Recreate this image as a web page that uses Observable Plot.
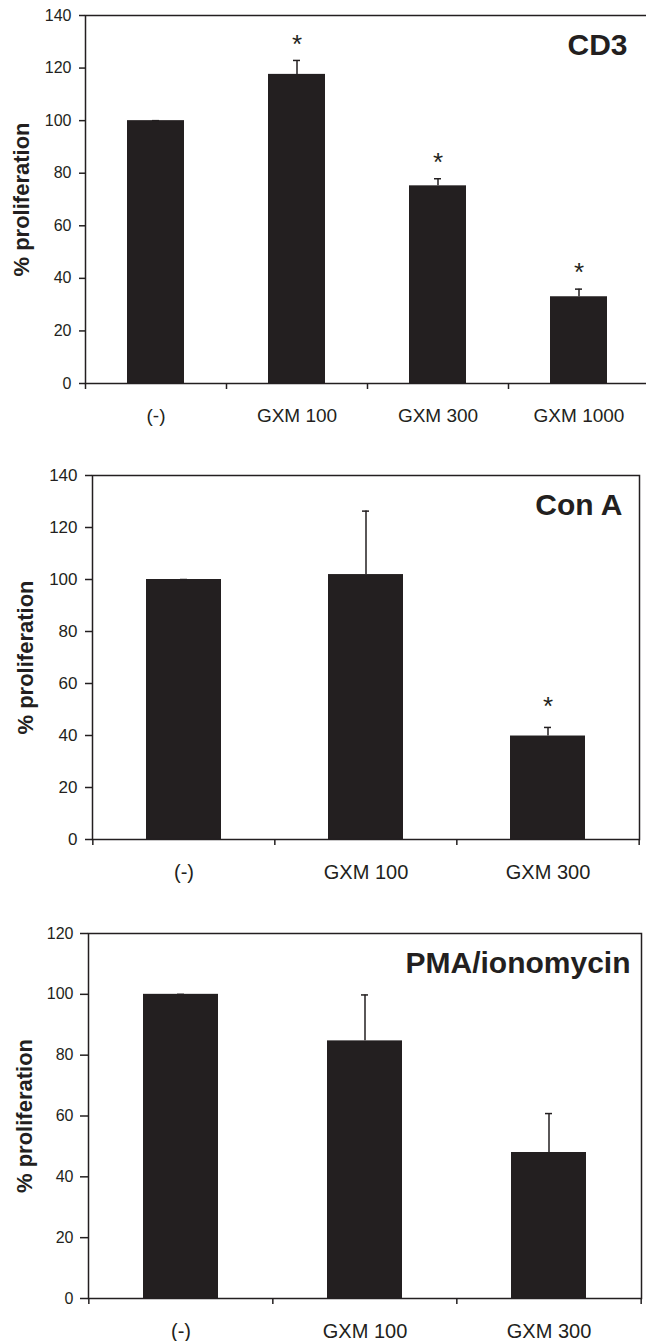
<!DOCTYPE html>
<html>
<head>
<meta charset="utf-8">
<script src="https://cdn.jsdelivr.net/npm/d3@7"></script>
<script src="https://cdn.jsdelivr.net/npm/@observablehq/plot@0.6"></script>
<style>
  html, body { margin: 0; padding: 0; background: #fff; overflow: hidden; width: 646px; }
  #chart svg { display: block; }
</style>
</head>
<body>
<div id="chart"></div>
<script>
// ---- data ----
const cd3Categories = ["(-)", "GXM 100", "GXM 300", "GXM 1000"];
const cd3Values = [100, 117.6, 75.2, 33.0];
const cd3Errors = [0, 5.3, 2.7, 2.9];
const cd3Significant = [false, true, true, true];

const conACategories = ["(-)", "GXM 100", "GXM 300"];
const conAValues = [100, 101.9, 39.8];
const conAErrors = [0, 24.4, 3.3];
const conASignificant = [false, false, true];

const pmaCategories = ["(-)", "GXM 100", "GXM 300"];
const pmaValues = [100, 84.7, 48.0];
const pmaErrors = [0, 15.1, 12.8];
const pmaSignificant = [false, false, false];

const yTicks140 = [0, 20, 40, 60, 80, 100, 120, 140];
const yTicks120 = [0, 20, 40, 60, 80, 100, 120];
const yLabel = "% proliferation";

const INK = "#231f20";
const FONT = "'Liberation Sans', Arial, Helvetica, sans-serif";

function panel(cfg) {
  const rows = cfg.categories.map((c, i) => ({
    cat: c, value: cfg.values[i], err: cfg.errors[i], sig: cfg.significant[i]
  }));
  const n = cfg.categories.length;
  const step = (cfg.width - cfg.marginLeft - cfg.marginRight) / n;
  const last = [cfg.categories[n - 1]];
  return Plot.plot({
    width: cfg.width,
    height: cfg.height,
    marginTop: cfg.marginTop,
    marginBottom: cfg.marginBottom,
    marginLeft: cfg.marginLeft,
    marginRight: cfg.marginRight,
    style: {fontFamily: FONT, color: INK, background: "white", maxWidth: "none", overflow: "hidden"},
    x: {domain: cfg.categories, paddingInner: cfg.padding, paddingOuter: cfg.padding / 2, axis: null},
    y: {domain: cfg.yDomain, axis: null},
    marks: [
      Plot.barY(rows, {x: "cat", y: "value", fill: INK}),
      Plot.ruleX(rows, {x: "cat", y1: "value", y2: d => d.value + d.err, stroke: INK, strokeWidth: 1.5}),
      Plot.tickY(rows, {x: "cat", y: d => d.value + d.err, stroke: INK, strokeWidth: 1.5, inset: cfg.capInset}),
      Plot.text(rows.filter(d => d.sig), {x: "cat", y: d => d.value + d.err, text: () => "*", fontSize: 26, fill: INK, dy: cfg.starDy, lineAnchor: "middle"}),
      // y axis
      Plot.axisY({ticks: cfg.yTicks, tickSize: cfg.yTickSize, tickPadding: cfg.yTickPadding, fontSize: cfg.yFont, stroke: INK, fill: INK, strokeWidth: 1.5, label: null}),
      // x axis tick marks at category boundaries
      Plot.axisX(cfg.categories, {tickSize: 6, stroke: INK, strokeWidth: 1.5, text: null, dx: -step / 2, label: null}),
      Plot.axisX(last, {tickSize: 6, stroke: INK, strokeWidth: 1.5, text: null, dx: step / 2, label: null}),
      // x labels
      Plot.axisX({tickSize: 0, tickPadding: 25, fontSize: cfg.xFont, fill: INK, label: null}),
      Plot.frame({stroke: INK, strokeWidth: 1.5}),
      Plot.text([yLabel], {frameAnchor: "left", rotate: -90, dx: cfg.yLabelDx, fontSize: 22, fontWeight: "bold", fill: INK, lineAnchor: "middle", textAnchor: "middle"}),
      Plot.text([cfg.title], {frameAnchor: "top-right", textAnchor: "end", lineAnchor: "middle", dx: cfg.titleDx, dy: 30, fontSize: 30, fontWeight: "bold", fill: INK})
    ]
  });
}

const chart = document.getElementById("chart");
chart.appendChild(panel({
  categories: cd3Categories, values: cd3Values, errors: cd3Errors, significant: cd3Significant,
  title: "CD3", yDomain: [0, 140], yTicks: yTicks140,
  width: 649, height: 445, marginTop: 15, marginBottom: 62, marginLeft: 85, marginRight: 0,
  padding: 0.595, capInset: 25, starDy: -16, yTickSize: 6, yTickPadding: 8, yFont: 16, xFont: 19,
  yLabelDx: -64, titleDx: -22
}));
chart.appendChild(panel({
  categories: conACategories, values: conAValues, errors: conAErrors, significant: conASignificant,
  title: "Con A", yDomain: [0, 140], yTicks: yTicks140,
  width: 646, height: 450, marginTop: 30, marginBottom: 56, marginLeft: 92, marginRight: 7,
  padding: 0.59, capInset: 34, starDy: -21, yTickSize: 7, yTickPadding: 8, yFont: 17, xFont: 20,
  yLabelDx: -67, titleDx: -17
}));
chart.appendChild(panel({
  categories: pmaCategories, values: pmaValues, errors: pmaErrors, significant: pmaSignificant,
  title: "PMA/ionomycin", yDomain: [0, 120], yTicks: yTicks120,
  width: 646, height: 446, marginTop: 38, marginBottom: 43, marginLeft: 88, marginRight: 5,
  padding: 0.59, capInset: 34, starDy: -21, yTickSize: 8, yTickPadding: 7, yFont: 16, xFont: 20,
  yLabelDx: -64, titleDx: -11
}));
</script>
</body>
</html>
